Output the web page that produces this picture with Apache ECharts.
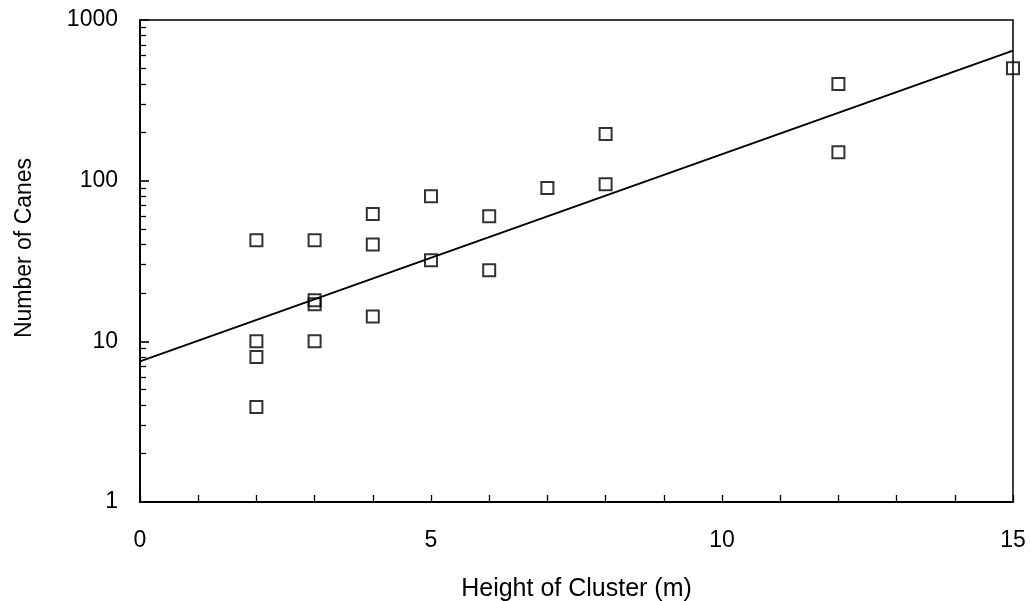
<!DOCTYPE html>
<html>
<head>
<meta charset="utf-8">
<script src="https://cdn.jsdelivr.net/npm/echarts@6/dist/echarts.min.js"></script>
<style>
  html, body { margin: 0; padding: 0; background: #fff; }
  #chart { width: 1031px; height: 601px; }
</style>
</head>
<body>
<div id="chart"></div>
<script>
// measured points: height of cluster (m) vs number of canes
var heights = [2, 2, 2, 2, 3, 3, 3, 3, 4, 4, 4, 5, 5, 6, 6, 7, 8, 8, 12, 12, 15];
var canes = [42.5, 10, 8, 3.9, 42.5, 18, 17, 10, 62, 40, 14.3, 80, 32, 60, 27.7, 90, 195, 95, 400, 150, 500];

var fitX = [0, 15];
var fitY = [7.5, 645];

// tick marks
var xLabelVals = [0, 5, 10, 15];
var yMajorVals = [1, 10, 100, 1000];
var yMinorVals = [2, 3, 4, 5, 6, 7, 8, 9, 20, 30, 40, 50, 60, 70, 80, 90, 200, 300, 400, 500, 600, 700, 800, 900];

var FONT = 'Liberation Sans, Arial, sans-serif';

var myChart = echarts.init(document.getElementById('chart'));

var pts = heights.map(function (h, i) { return [h, canes[i]]; });
var line = fitX.map(function (x, i) { return [x, fitY[i]]; });

var option = {
    animation: false,
    grid: {
        left: 140, right: 18, top: 20, bottom: 99,
        outerBoundsMode: 'none',
        containLabel: false,
        show: true,
        borderColor: '#000',
        borderWidth: 1.5
    },
    xAxis: {
        type: 'value',
        min: 0, max: 15, interval: 1,
        name: 'Height of Cluster (m)',
        nameLocation: 'middle',
        nameGap: 75,
        nameTextStyle: { color: '#000', fontSize: 25, fontFamily: FONT },
        axisLine: { show: true, onZero: false, lineStyle: { color: '#000', width: 1.8 } },
        axisTick: { show: true, inside: true, length: 7, lineStyle: { color: '#000', width: 1.3 } },
        axisLabel: {
            color: '#000', fontSize: 23, fontFamily: FONT, margin: 27,
            customValues: xLabelVals
        },
        splitLine: { show: false }
    },
    yAxis: [{
        type: 'log',
        logBase: 10,
        min: 1, max: 1000,
        name: 'Number of Canes',
        nameLocation: 'middle',
        nameGap: 104,
        nameTextStyle: { color: '#000', fontSize: 23, fontFamily: FONT, padding: [0, 0, 0, 26] },
        axisLine: { show: true, lineStyle: { color: '#000', width: 1.8 } },
        axisTick: { show: true, inside: true, length: 9, customValues: yMajorVals, lineStyle: { color: '#000', width: 1.6 } },
        axisLabel: {
            color: '#000', fontSize: 23, fontFamily: FONT, margin: 22, customValues: yMajorVals,
            formatter: function (v) { return String(Math.round(v)); }
        },
        splitLine: { show: false }
    }, {
        // minor ticks only
        type: 'log',
        logBase: 10,
        min: 1, max: 1000,
        position: 'left',
        axisLine: { show: false },
        axisTick: { show: true, inside: true, length: 6, customValues: yMinorVals, lineStyle: { color: '#000', width: 1.3 } },
        axisLabel: { show: false },
        splitLine: { show: false }
    }],
    series: [{
        type: 'line',
        data: line,
        symbol: 'none',
        lineStyle: { color: '#000', width: 2 },
        z: 2
    }, {
        type: 'scatter',
        data: pts,
        symbol: 'rect',
        symbolSize: 12,
        itemStyle: { color: 'rgba(0,0,0,0)', borderColor: '#000', borderWidth: 2 },
        z: 3
    }]
};

myChart.setOption(option);
window.onresize = myChart.resize;
</script>
</body>
</html>
